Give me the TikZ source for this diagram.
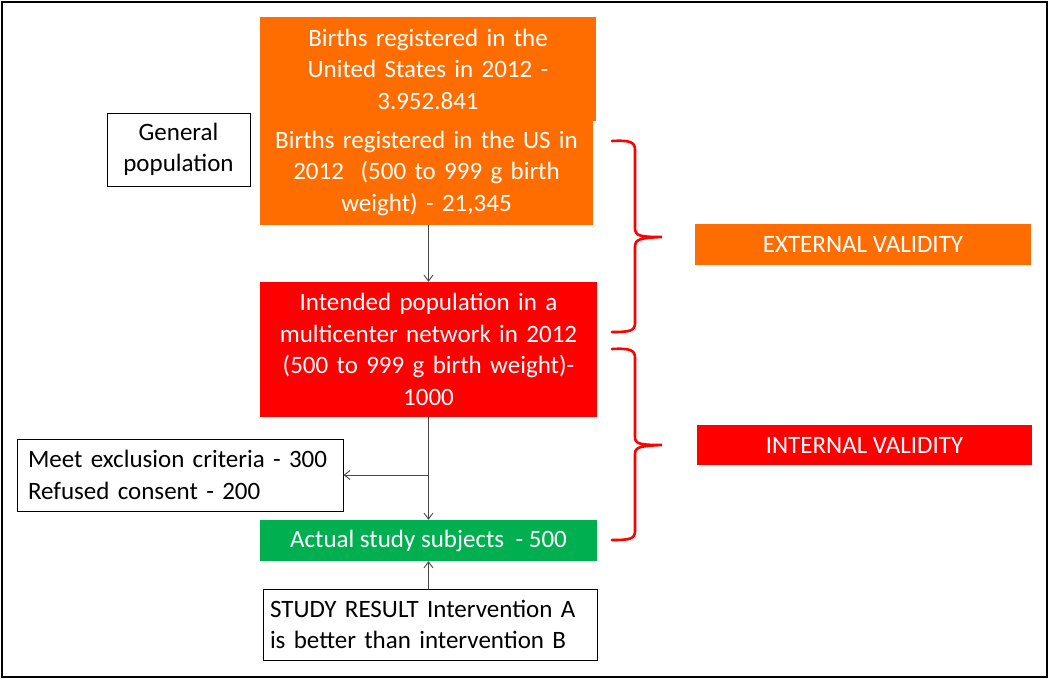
\documentclass[tikz,border=0pt]{standalone}
\usepackage{fontspec}
\setmainfont{Carlito}
\usetikzlibrary{arrows.meta}
\definecolor{myorange}{RGB}{255,109,0}
\definecolor{myred}{RGB}{255,0,0}
\definecolor{mygreen}{RGB}{0,176,80}
\definecolor{lineg}{RGB}{70,70,70}
\tikzset{
  fillbox/.style={draw=none, inner sep=0pt, text=white, align=center, font=\fontsize{25}{31.5}\selectfont},
  wbox/.style={draw=black, line width=0.8pt, fill=white, inner sep=0pt, align=left, font=\fontsize{25}{31.5}\selectfont},
  conn/.style={draw=lineg, line width=0.9pt, -{Straight Barb[length=6pt,width=9pt]}},
  brace/.style={draw=myred, line width=2.6pt, line cap=round}
}
\begin{document}
\begin{tikzpicture}[x=1pt,y=-1pt]
\useasboundingbox (0,0) rectangle (1050,679);
\fill[white] (0,0) rectangle (1050,679);
\draw[black, line width=2pt] (2,2) rectangle (1047,677);

\node[fillbox, fill=myorange, minimum width=336pt, minimum height=104pt, text width=330pt] (b1) at (428,69)
  {Births registered in the\\United States in 2012 -\\3.952.841};
\node[fillbox, fill=myorange, minimum width=333pt, minimum height=104pt, text width=330pt] (b2) at (426.5,173)
  {Births registered in the US in\\2012\ \ (500 to 999 g birth\\weight) - 21,345};
\node[wbox, minimum width=143pt, minimum height=73pt, align=center] (gp) at (178.5,149.5)
  {General\\population};
\node[fillbox, fill=myred, minimum width=337pt, minimum height=135pt, text width=330pt] (red) at (428.5,349.5)
  {Intended population in a\\multicenter network in 2012\\(500 to 999 g birth weight)-\\1000};
\node[wbox, minimum width=326pt, minimum height=72pt, text width=304pt] (ex) at (180,475)
  {Meet exclusion criteria - 300\\Refused consent - 200};
\node[fillbox, fill=mygreen, minimum width=337pt, minimum height=41pt] (gr) at (428.5,540.5)
  {Actual study subjects\ \ - 500};
\node[wbox, minimum width=334pt, minimum height=71pt, text width=320pt] (res) at (430,624.5)
  {STUDY RESULT Intervention A\\is better than intervention B};
\node[fillbox, fill=myorange, minimum width=336pt, minimum height=41pt] (ev) at (863,244.5)
  {EXTERNAL VALIDITY};
\node[fillbox, fill=myred, minimum width=335pt, minimum height=40pt] (iv) at (864.5,445)
  {INTERNAL VALIDITY};

\coordinate (br) at (red.south |- ex.east);
\draw[conn] (red.north |- b2.south) -- (red.north);
\draw[draw=lineg, line width=0.9pt] (red.south) -- (br);
\draw[conn] (br) -- (ex.east);
\draw[conn] (br) -- (gr.north);
\draw[conn] (gr.south |- res.north) -- (gr.south);

\draw[brace] (612,141) .. controls (630,140) and (635,142) .. (635,150) -- (635,228)
  .. controls (635,236) and (640,237) .. (662,237)
  .. controls (640,238) and (635,239) .. (635,247) -- (635,323)
  .. controls (635,331) and (630,332) .. (612,332);
\draw[brace] (612,349) .. controls (630,348) and (635,350) .. (635,358) -- (635,437)
  .. controls (635,444) and (640,445) .. (662,445)
  .. controls (640,446) and (635,447) .. (635,454) -- (635,531)
  .. controls (635,539) and (630,540) .. (612,540);
\end{tikzpicture}
\end{document}
